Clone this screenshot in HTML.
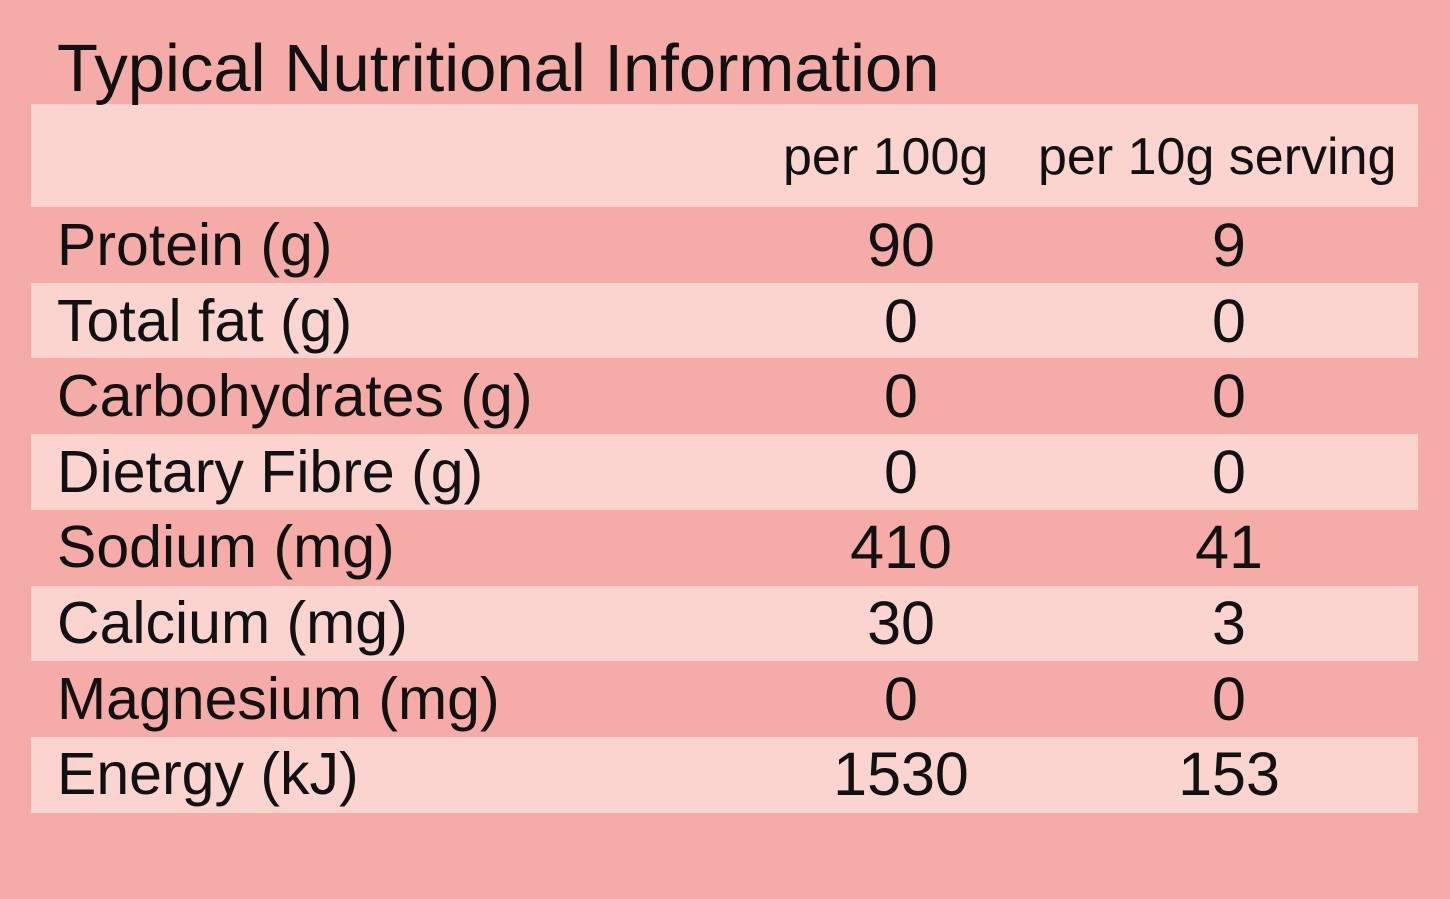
<!DOCTYPE html>
<html>
<head>
<meta charset="utf-8">
<style>
  html, body { margin:0; padding:0; }
  body {
    width:1450px; height:899px; overflow:hidden; position:relative;
    background:#f5aba7;
    font-family:"Liberation Sans", Arial, Helvetica, sans-serif;
    color:#111;
  }
  .band { position:absolute; left:31px; width:1387px; background:#fcd4cf; }
  .t { position:absolute; line-height:1; white-space:nowrap; }
  .title { left:57px; top:35px; font-size:67px; }
  .hdr { font-size:52px; top:131px; }
  .lab { left:57px; font-size:59px; }
  .num { font-size:61px; width:300px; text-align:center; }
  .c1 { left:751px; }
  .c2 { left:1079px; }
</style>
</head>
<body>
  <div class="band" style="top:104px;height:103px;"></div>
  <div class="band" style="top:283px;height:75px;"></div>
  <div class="band" style="top:434px;height:76px;"></div>
  <div class="band" style="top:586px;height:75px;"></div>
  <div class="band" style="top:737px;height:76px;"></div>

  <div class="t title">Typical Nutritional Information</div>
  <div class="t hdr" style="left:783px;">per 100g</div>
  <div class="t hdr" style="left:1038px;">per 10g serving</div>

  <div class="t lab" style="top:216px;">Protein (g)</div>
  <div class="t num c1" style="top:215px;">90</div>
  <div class="t num c2" style="top:215px;">9</div>

  <div class="t lab" style="top:292px;">Total fat (g)</div>
  <div class="t num c1" style="top:291px;">0</div>
  <div class="t num c2" style="top:291px;">0</div>

  <div class="t lab" style="top:367px;">Carbohydrates (g)</div>
  <div class="t num c1" style="top:366px;">0</div>
  <div class="t num c2" style="top:366px;">0</div>

  <div class="t lab" style="top:443px;">Dietary Fibre (g)</div>
  <div class="t num c1" style="top:442px;">0</div>
  <div class="t num c2" style="top:442px;">0</div>

  <div class="t lab" style="top:518px;">Sodium (mg)</div>
  <div class="t num c1" style="top:517px;">410</div>
  <div class="t num c2" style="top:517px;">41</div>

  <div class="t lab" style="top:594px;">Calcium (mg)</div>
  <div class="t num c1" style="top:593px;">30</div>
  <div class="t num c2" style="top:593px;">3</div>

  <div class="t lab" style="top:670px;">Magnesium (mg)</div>
  <div class="t num c1" style="top:669px;">0</div>
  <div class="t num c2" style="top:669px;">0</div>

  <div class="t lab" style="top:745px;">Energy (kJ)</div>
  <div class="t num c1" style="top:744px;">1530</div>
  <div class="t num c2" style="top:744px;">153</div>
</body>
</html>
